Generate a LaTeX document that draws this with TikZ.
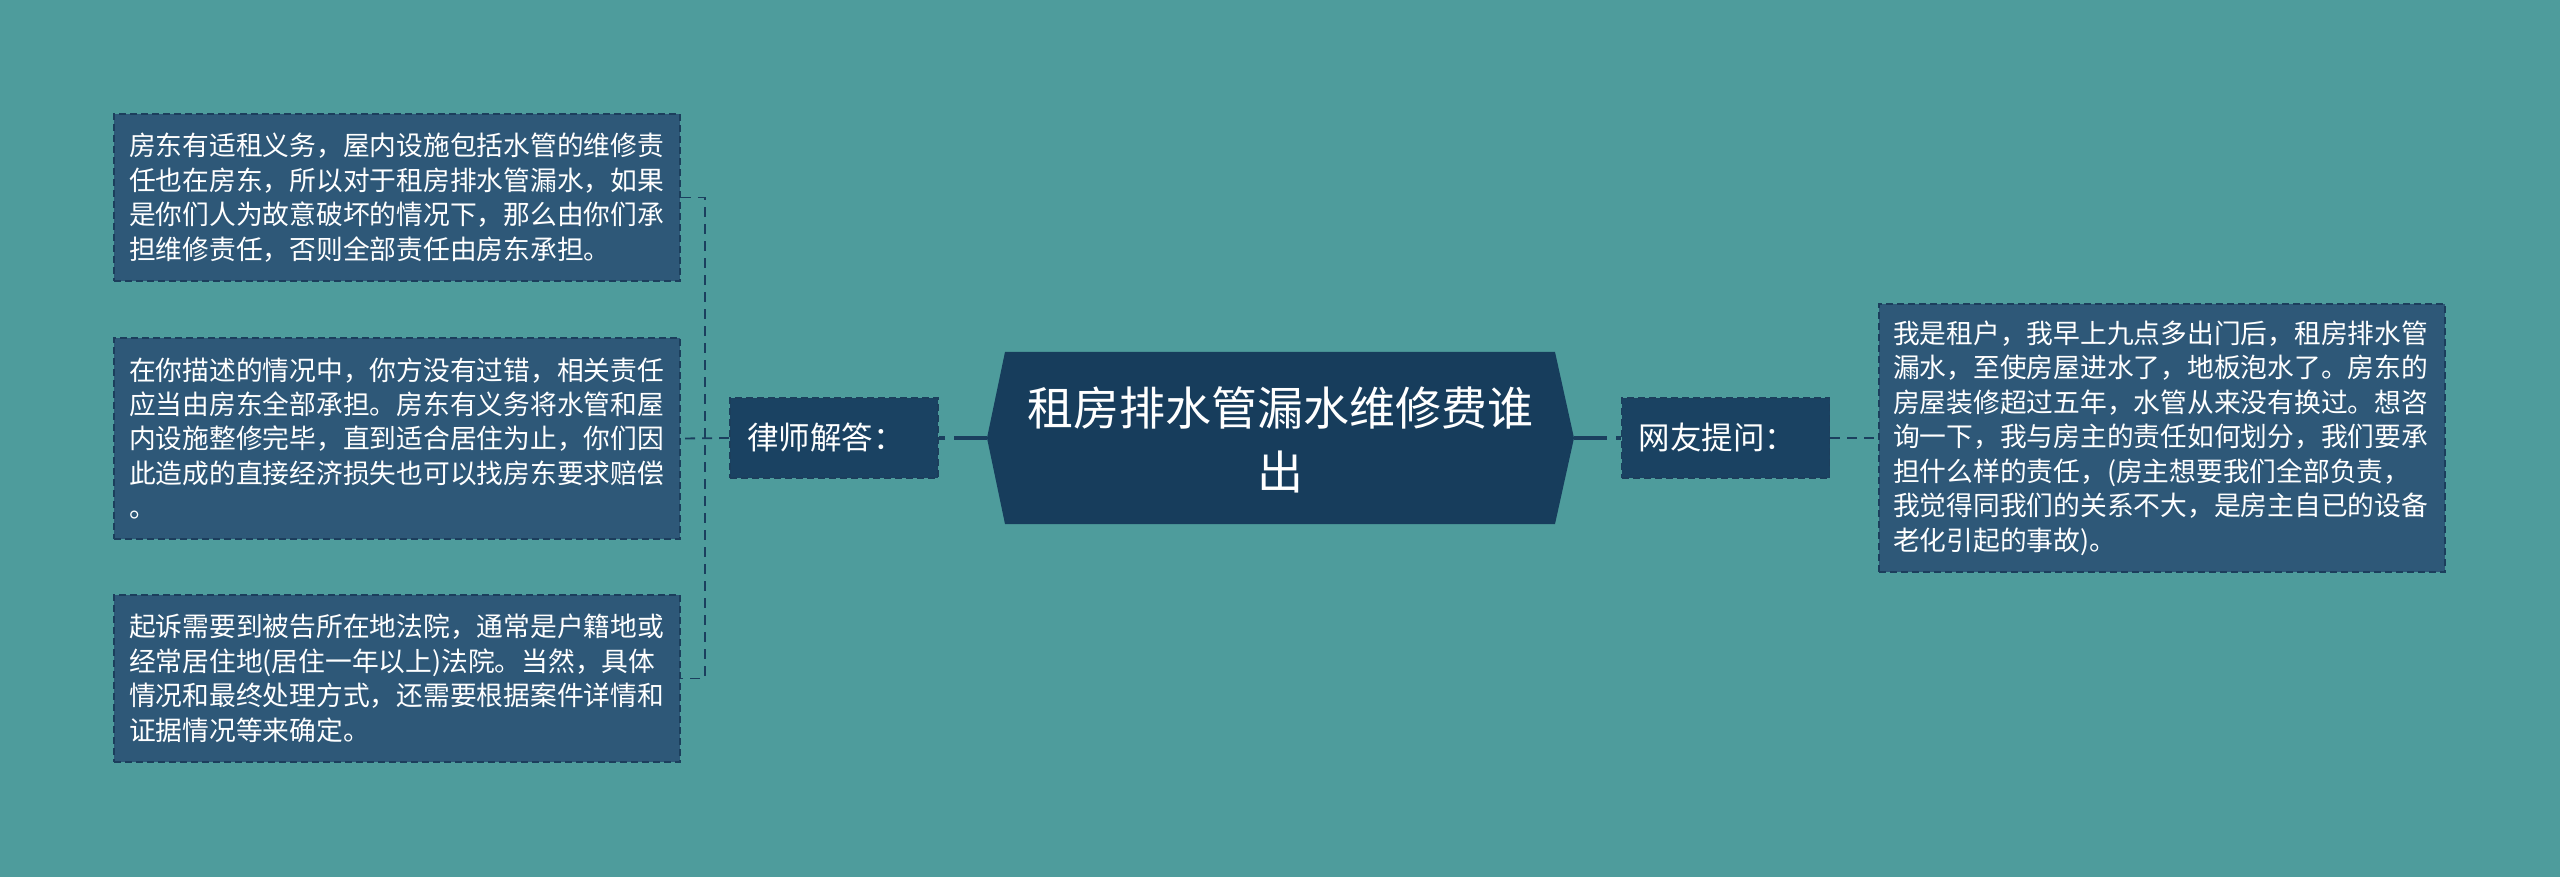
\documentclass[tikz,border=0pt]{standalone}
\usepackage{fontspec}
\setmainfont{Noto Sans CJK SC}
\definecolor{bgc}{HTML}{4E9C9C}
\definecolor{leaffill}{HTML}{2E5878}
\definecolor{leafline}{HTML}{1C3E5C}
\definecolor{hexfill}{HTML}{173D5C}
\definecolor{labfill}{HTML}{1A4262}
\definecolor{connc}{HTML}{1B3F5E}
\tikzset{
  leafbox/.style={draw=leafline, fill=leaffill, line width=1.6pt, dash pattern=on 7pt off 4pt,
    text=white, inner xsep=15pt, inner ysep=0pt, text width=536pt, minimum width=566pt,
    align=left, font=\fontsize{26.75}{34.5}\selectfont},
  labbox/.style={draw=leafline, fill=labfill, line width=1.6pt, dash pattern=on 7pt off 4pt,
    text=white, inner xsep=17pt, inner ysep=0pt, text width=174pt, minimum width=208pt,
    minimum height=80pt, align=left, font=\fontsize{31.5}{38}\selectfont},
  titletext/.style={text=white, align=center, inner sep=0pt, font=\fontsize{46}{64}\selectfont},
  conn/.style={draw=connc, line width=1.8pt, dash pattern=on 10pt off 7pt},
  thickconn/.style={draw=connc, line width=4pt, dash pattern=on 33pt off 9pt},
}
\begin{document}
\begin{tikzpicture}[x=1pt,y=-1pt]
\useasboundingbox (0,0) rectangle (2560,877);
\fill[bgc] (0,0) rectangle (2560,877);

% central topic (hexagon)
\coordinate (hexL) at (987,438);
\coordinate (hexR) at (1574,438);
\fill[hexfill] (hexL) -- (1005,352) -- (1555,352) -- (hexR) -- (1555,524) -- (1005,524) -- cycle;
\node[titletext] (title) at (1280,440) {租房排水管漏水维修费谁\\出};

% labels
\node[labbox] (lab1) at (834,438) {律师解答：};
\node[labbox] (lab2) at (1725.5,438) {网友提问：};

% left leaves
\node[leafbox, minimum height=167pt] (box1) at (397,197.5) {房东有适租义务，屋内设施包括水管的维修责\\任也在房东，所以对于租房排水管漏水，如果\\是你们人为故意破坏的情况下，那么由你们承\\担维修责任，否则全部责任由房东承担。};
\node[leafbox, minimum height=201pt] (box2) at (397,438.5) {在你描述的情况中，你方没有过错，相关责任\\应当由房东全部承担。房东有义务将水管和屋\\内设施整修完毕，直到适合居住为止，你们因\\此造成的直接经济损失也可以找房东要求赔偿\\。};
\node[leafbox, minimum height=167pt] (box3) at (397,678.5) {起诉需要到被告所在地法院，通常是户籍地或\\经常居住地(居住一年以上)法院。当然，具体\\情况和最终处理方式，还需要根据案件详情和\\证据情况等来确定。};

% right leaf
\node[leafbox, inner xsep=14pt, text width=538pt, minimum height=268pt] (box4) at (2162,438) {我是租户，我早上九点多出门后，租房排水管\\漏水，至使房屋进水了，地板泡水了。房东的\\房屋装修超过五年，水管从来没有换过。想咨\\询一下，我与房主的责任如何划分，我们要承\\担什么样的责任，(房主想要我们全部负责，\\我觉得同我们的关系不大，是房主自已的设备\\老化引起的事故)。};

% connectors
\coordinate (bx) at (705,438);
\draw[thickconn] (hexL) -- (lab1.east);
\draw[thickconn] (hexR) -- (lab2.west);
\draw[conn] (lab1.west) -- (box2.east);
\draw[conn] (box1.east) -- (box1.east -| bx) -- (box3.east -| bx) -- (box3.east);
\draw[conn] (lab2.east) -- (box4.west);
\end{tikzpicture}
\end{document}
